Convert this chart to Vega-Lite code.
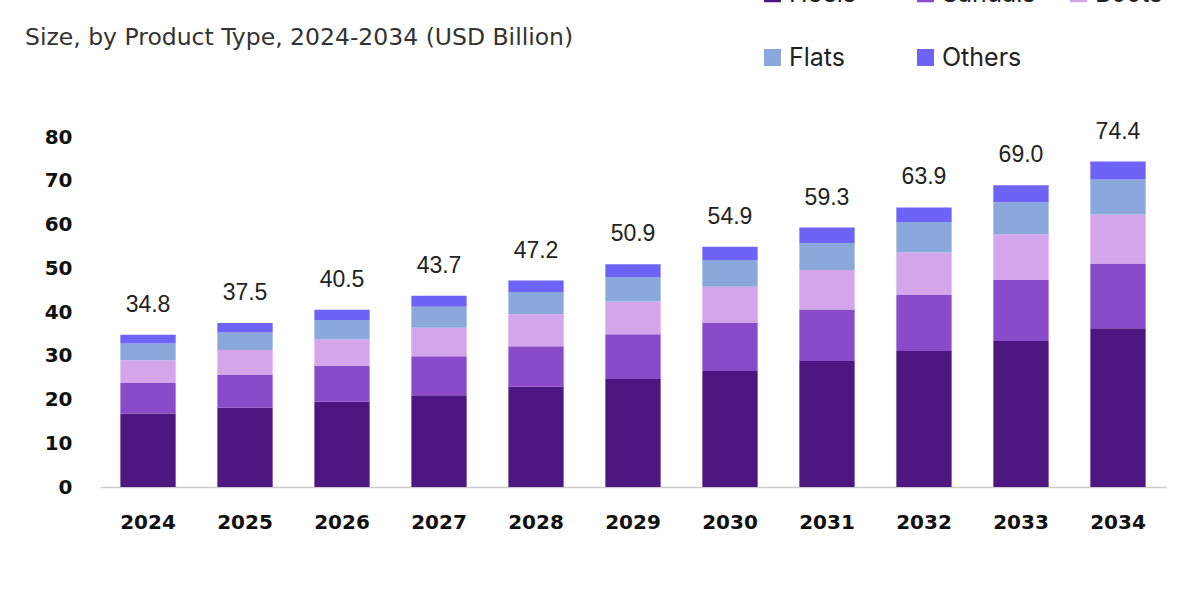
{
  "$schema": "https://vega.github.io/schema/vega-lite/v6.json",
  "width": 1066,
  "height": 350,
  "autosize": {"type": "none"},
  "padding": {"left": 100, "top": 137, "right": 34, "bottom": 113},
  "background": "white",
  "config": {"view": {"stroke": null}, "font": "Inter"},
  "title": {
    "text": "Size, by Product Type, 2024-2034 (USD Billion)",
    "anchor": "start",
    "frame": "group",
    "dx": -75,
    "offset": 0,
    "dy": 68,
    "fontSize": 23.5,
    "fontWeight": "normal",
    "color": "#333333",
    "font": "DejaVu Sans"
  },
  "datasets": {
    "market": [
      {"year": "2024", "type": "Heels", "value": 16.8},
      {"year": "2024", "type": "Sandals", "value": 7.0},
      {"year": "2024", "type": "Boots", "value": 5.2},
      {"year": "2024", "type": "Flats", "value": 3.8},
      {"year": "2024", "type": "Others", "value": 2.0},
      {"year": "2025", "type": "Heels", "value": 18.1},
      {"year": "2025", "type": "Sandals", "value": 7.5},
      {"year": "2025", "type": "Boots", "value": 5.7},
      {"year": "2025", "type": "Flats", "value": 4.0},
      {"year": "2025", "type": "Others", "value": 2.2},
      {"year": "2026", "type": "Heels", "value": 19.5},
      {"year": "2026", "type": "Sandals", "value": 8.2},
      {"year": "2026", "type": "Boots", "value": 6.1},
      {"year": "2026", "type": "Flats", "value": 4.4},
      {"year": "2026", "type": "Others", "value": 2.3},
      {"year": "2027", "type": "Heels", "value": 21.0},
      {"year": "2027", "type": "Sandals", "value": 8.9},
      {"year": "2027", "type": "Boots", "value": 6.5},
      {"year": "2027", "type": "Flats", "value": 4.8},
      {"year": "2027", "type": "Others", "value": 2.5},
      {"year": "2028", "type": "Heels", "value": 22.9},
      {"year": "2028", "type": "Sandals", "value": 9.3},
      {"year": "2028", "type": "Boots", "value": 7.3},
      {"year": "2028", "type": "Flats", "value": 5.1},
      {"year": "2028", "type": "Others", "value": 2.6},
      {"year": "2029", "type": "Heels", "value": 24.7},
      {"year": "2029", "type": "Sandals", "value": 10.2},
      {"year": "2029", "type": "Boots", "value": 7.5},
      {"year": "2029", "type": "Flats", "value": 5.6},
      {"year": "2029", "type": "Others", "value": 2.9},
      {"year": "2030", "type": "Heels", "value": 26.5},
      {"year": "2030", "type": "Sandals", "value": 11.1},
      {"year": "2030", "type": "Boots", "value": 8.2},
      {"year": "2030", "type": "Flats", "value": 6.1},
      {"year": "2030", "type": "Others", "value": 3.0},
      {"year": "2031", "type": "Heels", "value": 28.8},
      {"year": "2031", "type": "Sandals", "value": 11.8},
      {"year": "2031", "type": "Boots", "value": 9.0},
      {"year": "2031", "type": "Flats", "value": 6.2},
      {"year": "2031", "type": "Others", "value": 3.5},
      {"year": "2032", "type": "Heels", "value": 31.1},
      {"year": "2032", "type": "Sandals", "value": 12.8},
      {"year": "2032", "type": "Boots", "value": 9.7},
      {"year": "2032", "type": "Flats", "value": 7.0},
      {"year": "2032", "type": "Others", "value": 3.3},
      {"year": "2033", "type": "Heels", "value": 33.4},
      {"year": "2033", "type": "Sandals", "value": 13.9},
      {"year": "2033", "type": "Boots", "value": 10.5},
      {"year": "2033", "type": "Flats", "value": 7.3},
      {"year": "2033", "type": "Others", "value": 3.9},
      {"year": "2034", "type": "Heels", "value": 36.3},
      {"year": "2034", "type": "Sandals", "value": 14.8},
      {"year": "2034", "type": "Boots", "value": 11.2},
      {"year": "2034", "type": "Flats", "value": 8.0},
      {"year": "2034", "type": "Others", "value": 4.1}
    ]
  },
  "data": {"name": "market"},
  "encoding": {
    "x": {
      "field": "year",
      "type": "nominal",
      "scale": {"paddingInner": 0.43, "paddingOuter": 0.21},
      "axis": {
        "title": null,
        "labelAngle": 0,
        "labelFont": "DejaVu Sans",
        "labelFontSize": 20,
        "labelFontWeight": "bold",
        "labelColor": "#111111",
        "labelPadding": 25,
        "ticks": false,
        "domainColor": "#cccccc",
        "domainWidth": 1.5
      }
    }
  },
  "layer": [
    {
      "mark": {"type": "bar"},
      "transform": [
        {"calculate": "indexof(['Heels','Sandals','Boots','Flats','Others'], datum.type)", "as": "rank"}
      ],
      "encoding": {
        "y": {
          "field": "value",
          "type": "quantitative",
          "aggregate": "sum",
          "stack": "zero",
          "scale": {"domain": [0, 80], "nice": false},
          "axis": {
            "title": null,
            "values": [0, 10, 20, 30, 40, 50, 60, 70, 80],
            "grid": false,
            "domain": false,
            "ticks": false,
            "labelFont": "DejaVu Sans",
            "labelFontSize": 20,
            "labelFontWeight": "bold",
            "labelColor": "#111111",
            "labelPadding": 28
          }
        },
        "color": {
          "field": "type",
          "type": "nominal",
          "scale": {
            "domain": ["Heels", "Sandals", "Boots", "Flats", "Others"],
            "range": ["#4e1680", "#8a4bcb", "#d4a5ea", "#8aa8dc", "#6f63f5"]
          },
          "legend": {
            "title": null,
            "orient": "none",
            "legendX": 660,
            "legendY": -156,
            "direction": "horizontal",
            "columns": 3,
            "gridAlign": "all",
            "symbolType": "square",
            "symbolSize": 289,
            "symbolStrokeWidth": 0,
            "labelFontSize": 25,
            "labelColor": "#222222",
            "labelOffset": 4,
            "columnPadding": 30,
            "rowPadding": 38
          }
        },
        "order": {"field": "rank", "type": "quantitative"}
      }
    },
    {
      "transform": [
        {"aggregate": [{"op": "sum", "field": "value", "as": "total"}], "groupby": ["year"]}
      ],
      "mark": {"type": "text", "baseline": "bottom", "dy": -18, "fontSize": 23, "font": "Liberation Sans", "color": "#222222"},
      "encoding": {
        "y": {"field": "total", "type": "quantitative"},
        "text": {"field": "total", "type": "quantitative", "format": ".1f"}
      }
    }
  ]
}
